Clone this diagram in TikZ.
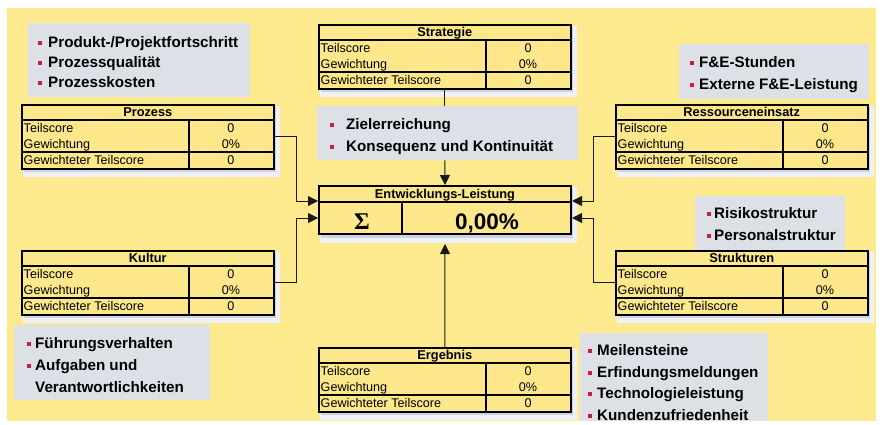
\documentclass[tikz,border=0pt]{standalone}
\usepackage{fontspec}
\setmainfont{Liberation Sans}
\newfontfamily\serifb{Liberation Serif}
\usetikzlibrary{calc,arrows.meta}
\definecolor{bgyel}{RGB}{253,234,143}
\definecolor{tabyel}{RGB}{252,231,138}
\definecolor{boxgray}{RGB}{221,224,231}
\definecolor{bulred}{RGB}{200,30,60}
\definecolor{shadowa}{RGB}{240,241,246}
\definecolor{shadowb}{RGB}{206,210,225}
\newcommand\bul[1]{\textcolor{bulred}{\rule[2.6pt]{4pt}{4pt}}\hspace{#1pt}}
\newcommand\scoretab[4]{%
  \fill[shadowa] (#2+2,#3+2) rectangle (#2+259,#3+73);
  \fill[shadowb] (#2+3,#3+3) rectangle (#2+255,#3+68);
  \node[tabbox] (#1) at (#2,#3) {};
  \draw[innerline] ($(#1.north west)+(0,16)$) -- ($(#1.north east)+(0,16)$);
  \draw[innerline] ($(#1.north west)+(0,48)$) -- ($(#1.north east)+(0,48)$);
  \draw[innerline] ($(#1.north west)+(168,16)$) -- ($(#1.south west)+(168,0)$);
  \node[ttl] (#1-t) at ($(#1.north)+(0,8)$) {#4};
  \node[cl] (#1-a) at ($(#1.north west)+(2.5,24)$) {Teilscore};
  \node[cl] (#1-b) at ($(#1.north west)+(2.5,40)$) {Gewichtung};
  \node[cl] (#1-c) at ($(#1.north west)+(2.5,56)$) {Gewichteter Teilscore};
  \node[cv] (#1-d) at ($(#1.north west)+(210,24)$) {0};
  \node[cv] (#1-e) at ($(#1.north west)+(210,40)$) {0\%};
  \node[cv] (#1-f) at ($(#1.north west)+(210,56)$) {0};
}
\begin{document}
\begin{tikzpicture}[x=1pt,y=-1pt,
  tabbox/.style={draw=black, line width=1.6pt, fill=tabyel, minimum width=252pt, minimum height=64pt, inner sep=0pt, anchor=north west},
  innerline/.style={draw=black, line width=1.3pt},
  ttl/.style={inner sep=0pt, font=\bfseries\fontsize{12.8}{14}\selectfont, text height=9.2pt, text depth=0pt},
  cl/.style={anchor=west, inner sep=0pt, font=\fontsize{12.6}{14}\selectfont, text height=9.1pt, text depth=0pt},
  cv/.style={inner sep=0pt, font=\fontsize{12.6}{14}\selectfont, text height=9.1pt, text depth=0pt},
  graybox/.style={fill=boxgray, draw=none, inner sep=0pt, anchor=north west},
  blt/.style={anchor=west, inner sep=0pt, font=\bfseries\fontsize{15.2}{18}\selectfont, text height=10.9pt, text depth=0pt},
  conn/.style={draw=black!90, line width=1pt},
  arr/.style={-{Triangle[length=10pt,width=10pt]}}
]
\useasboundingbox (0,0) rectangle (883,424);
\fill[white] (0,0) rectangle (883,424);
\fill[bgyel] (7,8) rectangle (876,421);

% gray bullet boxes
\node[graybox, minimum width=222pt, minimum height=74pt] (g1) at (28,23) {};
\node[graybox, minimum width=261pt, minimum height=54pt] (g2) at (317,106) {};
\node[graybox, minimum width=190pt, minimum height=55pt] (g3) at (679,44) {};
\node[graybox, minimum width=150pt, minimum height=54pt] (g4) at (695,196) {};
\node[graybox, minimum width=196pt, minimum height=75pt] (g5) at (14,325) {};
\node[graybox, minimum width=188pt, minimum height=88pt] (g6) at (580,333) {};

\node[blt] (g1a) at (38,42) {\bul{6}Produkt-/Projektfortschritt};
\node[blt] (g1b) at (38,62) {\bul{6}Prozessqualität};
\node[blt] (g1c) at (38,82) {\bul{6}Prozesskosten};

\node[blt] (g2a) at (330,124) {\bul{12}Zielerreichung};
\node[blt] (g2b) at (330,146) {\bul{12}Konsequenz und Kontinuität};

\node[blt] (g3a) at (690,62) {\bul{5}F\&E-Stunden};
\node[blt] (g3b) at (690,84) {\bul{5}Externe F\&E-Leistung};

\node[blt] (g4a) at (707,213) {\bul{3}Risikostruktur};
\node[blt] (g4b) at (707,235) {\bul{3}Personalstruktur};

\node[blt] (g5a) at (27,343) {\bul{4}Führungsverhalten};
\node[blt] (g5b) at (27,365) {\bul{4}Aufgaben und};
\node[blt] (g5c) at (35,387) {Verantwortlichkeiten};

\node[blt] (g6a) at (588,350) {\bul{5}Meilensteine};
\node[blt] (g6b) at (588,372) {\bul{5}Erfindungsmeldungen};
\node[blt] (g6c) at (588,393) {\bul{5}Technologieleistung};
\node[blt] (g6d) at (588,415) {\bul{5}Kundenzufriedenheit};

% tables
\scoretab{proz}{21}{104}{Prozess}
\scoretab{strat}{318}{24}{Strategie}
\scoretab{res}{615}{104}{Ressourceneinsatz}
\scoretab{kult}{21}{250}{Kultur}
\scoretab{struk}{615}{250}{Strukturen}
\scoretab{erg}{318}{347}{Ergebnis}

% central box
\fill[shadowa] (320,187) rectangle (577,243);
\fill[shadowb] (321,188) rectangle (573,238);
\node[tabbox, line width=2pt, minimum height=48pt] (ent) at (318,185) {};
\draw[innerline] ($(ent.north west)+(0,17)$) -- ($(ent.north east)+(0,17)$);
\draw[innerline] ($(ent.north west)+(84,17)$) -- ($(ent.south west)+(84,0)$);
\node[ttl] (entt) at ($(ent.north)+(0,8.5)$) {Entwicklungs-Leistung};
\node[inner sep=0pt, font=\serifb\bfseries\fontsize{24}{24}\selectfont, text height=16pt, text depth=0pt] (sig) at (362,221) {Σ};
\node[inner sep=0pt, font=\bfseries\fontsize{22.5}{24}\selectfont, text height=16pt, text depth=0pt] (pct) at (487,221) {0,00\%};

% connectors
\draw[conn,arr] (proz.east) -- ++(22,0) |- ($(ent.west)+(0,-9)$);
\draw[conn,arr] (kult.east) -- ++(22,0) |- ($(ent.west)+(0,8)$);
\draw[conn,arr] (res.west) -- ++(-22,0) |- ($(ent.east)+(0,-9)$);
\draw[conn,arr] (struk.west) -- ++(-22,0) |- ($(ent.east)+(0,8)$);
\draw[conn] (strat.south) -- (strat.south |- g2.north);
\draw[conn,arr] (strat.south |- g2.south) -- (ent.north);
\draw[conn,arr] (erg.north) -- ($(ent.south)+(0,9)$);
\end{tikzpicture}
\end{document}
